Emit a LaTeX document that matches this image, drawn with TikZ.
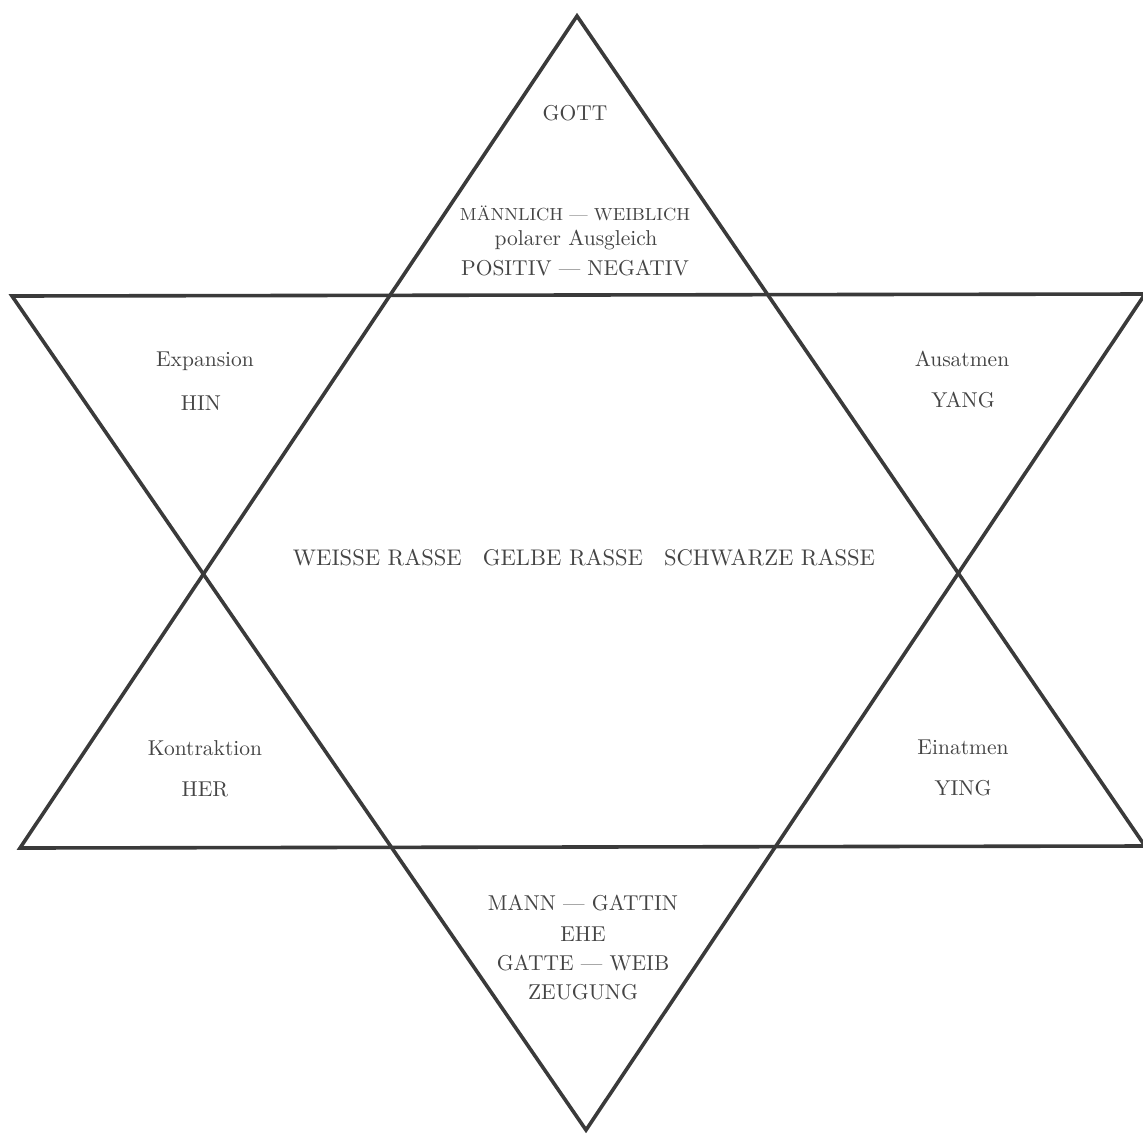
\documentclass[tikz,border=0pt]{standalone}
\usepackage{fontspec}
\setmainfont{lmroman10-regular}[Extension=.otf]
\definecolor{ink}{HTML}{3A3A3A}
\definecolor{txt}{HTML}{444444}
\tikzset{
  starline/.style={draw=ink, line width=3.6pt, line join=miter},
  lbl/.style={text=txt, inner sep=0pt, align=center, font=\fontsize{21.5}{26}\selectfont},
  smalllbl/.style={text=txt, inner sep=0pt, align=center, font=\fontsize{17.5}{21}\selectfont},
}
\begin{document}
\begin{tikzpicture}[x=1pt,y=-1pt]
\useasboundingbox (0,0) rectangle (1143,1133);
% star corners
\coordinate (A)  at (577,16);
\coordinate (BL) at (20,848);
\coordinate (BR) at (1145,846);
\coordinate (TL) at (12,296);
\coordinate (TR) at (1145,294);
\coordinate (D)  at (586,1130);
\draw[starline] (A) -- (BL) -- (BR) -- cycle;
\draw[starline] (TL) -- (TR) -- (D) -- cycle;
% texts
\node[lbl] (gott) at (575,113) {GOTT};
\node[smalllbl] (mw) at (575,213) {\scalebox{1.05}[1]{MÄNNLICH — WEIBLICH}};
\node[lbl] (pol) at (576,240) {polarer Ausgleich};
\node[lbl] (pn) at (575,268) {POSITIV — NEGATIV};
\node[lbl] (exp) at (205,361) {Expansion};
\node[lbl] (hin) at (201,403) {HIN};
\node[lbl] (aus) at (962,359) {Ausatmen};
\node[lbl] (yang) at (963,400) {YANG};
\node[lbl, font=\fontsize{22.6}{27}\selectfont] (rasse) at (584,558) {WEISSE RASSE\hspace{21pt}GELBE RASSE\hspace{21pt}SCHWARZE RASSE};
\node[lbl] (kon) at (205,748) {Kontraktion};
\node[lbl] (her) at (205,789) {HER};
\node[lbl] (ein) at (963,747) {Einatmen};
\node[lbl] (ying) at (963,788) {YING};
\node[lbl] (mg) at (583,903) {MANN — GATTIN};
\node[lbl] (ehe) at (583,934) {EHE};
\node[lbl] (gw) at (583,963) {GATTE — WEIB};
\node[lbl] (zeu) at (583,992) {ZEUGUNG};
\end{tikzpicture}
\end{document}
